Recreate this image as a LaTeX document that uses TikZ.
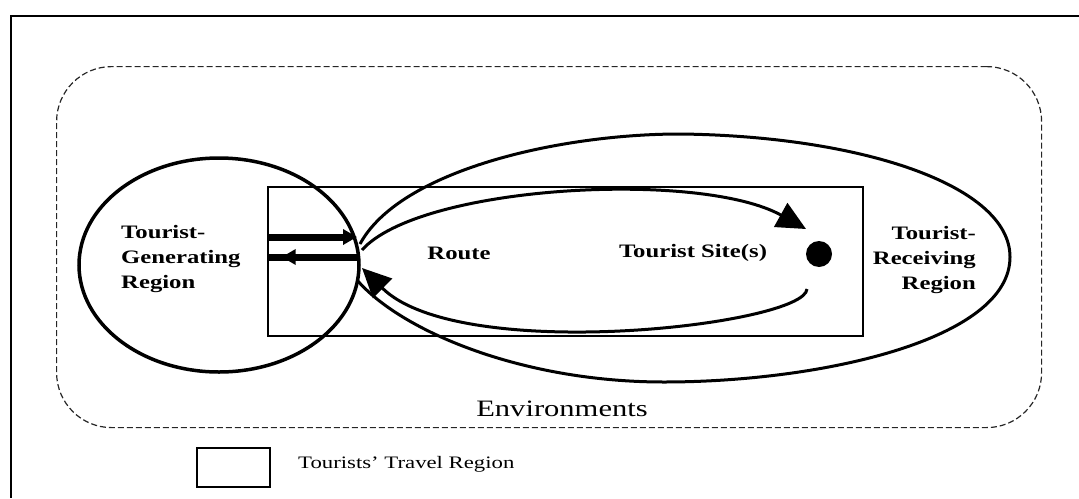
\documentclass[tikz,border=0pt]{standalone}
\usepackage{fontspec}
\newfontfamily\diagfont{Liberation Serif}[FakeStretch=1.3]
\usetikzlibrary{arrows.meta,shapes.geometric,decorations.markings}
\begin{document}
\begin{tikzpicture}[x=1pt,y=-1pt,
  lbl/.style={font=\diagfont\bfseries\fontsize{19}{25}\selectfont, inner sep=0pt},
  plain/.style={font=\diagfont\fontsize{#1}{#1}\selectfont, inner sep=0pt},
  envline/.style={draw=black!85, line width=1.2pt, dash pattern=on 6pt off 3pt, rounded corners=55pt},
  boxline/.style={draw, line width=2pt, inner sep=0pt},
  curve/.style={line width=3pt},
  bighead/.style={-{Triangle[length=29pt,width=27pt]}},
  thickarrow/.style={line width=7pt},
  smallhead/.style={-{Triangle[length=14pt,width=15pt]}}
]
\useasboundingbox (0,0) rectangle (1079,498);

% outer frame (top and left visible)
\coordinate (frtr) at (1079,16);
\coordinate (frtl) at (11,16);
\coordinate (frbl) at (11,498);
\draw[line width=2pt] (frtr) -- (frtl) -- (frbl);

% environments box
\node[envline, minimum width=985pt, minimum height=361pt, anchor=north west, inner sep=0pt] (envbox) at (56,66) {};

% route rectangle
\node[boxline, minimum width=595pt, minimum height=149pt, anchor=north west] (routebox) at (267,186) {};

% tourist generating region
\node[ellipse, draw, line width=3.5pt, minimum width=280pt, minimum height=214pt, inner sep=0pt] (gen) at (219,265) {};

% tourist receiving region (teardrop)
\coordinate (rtip) at (360,244);
\coordinate (rtop) at (680,134);
\coordinate (rright) at (1010,257);
\coordinate (rbot) at (664,382);
\coordinate (rtipb) at (357,280);
\draw[curve] (rtip) .. controls (400,170) and (560,134) .. (rtop)
  .. controls (860,136) and (1010,185) .. (rright)
  .. controls (1010,340) and (820,382) .. (rbot)
  .. controls (520,382) and (400,330) .. (rtipb);

% tourist site
\node[circle, fill, minimum size=26pt, inner sep=0pt] (site) at (819,254) {};

% outgoing and return arrows
\coordinate (out0) at (362,250);
\coordinate (outtip) at (806,229);
\draw[curve, bighead] (out0) .. controls (420,185) and (700,170) .. (outtip);
\coordinate (ret0) at (807,289);
\coordinate (rettip) at (362,268);
\draw[curve, bighead] (ret0) .. controls (805,325) and (460,365) .. (rettip);

% thick arrows at the border
\coordinate (ta0) at (267,237);
\coordinate (ta1) at (357,237);
\draw[thickarrow, smallhead] (ta0) -- (ta1);
\coordinate (ba0) at (359,257);
\coordinate (ba1) at (267,257);
\draw[thickarrow, postaction={decorate},
  decoration={markings, mark=at position 0.84 with {\arrow{Triangle[length=14pt,width=15pt]}}}] (ba0) -- (ba1);

% labels
\node[lbl, align=left, anchor=west] (gentext) at (121,259) {Tourist-\\Generating\\Region};
\node[lbl] (routetext) at (459,253) {Route};
\node[lbl] (sitetext) at (693,253) {Tourist Site(s)};
\node[lbl, align=right, anchor=east] (rectext) at (976,260) {Tourist-\\Receiving\\Region};
\node[plain=23.5] (envtext) at (562,409) {Environments};

% legend
\node[boxline, minimum width=73pt, minimum height=39pt, anchor=north west] (legbox) at (196,447) {};
\node[plain=17.5, anchor=west] (legtext) at (298,464) {Tourists’ Travel Region};
\end{tikzpicture}
\end{document}
